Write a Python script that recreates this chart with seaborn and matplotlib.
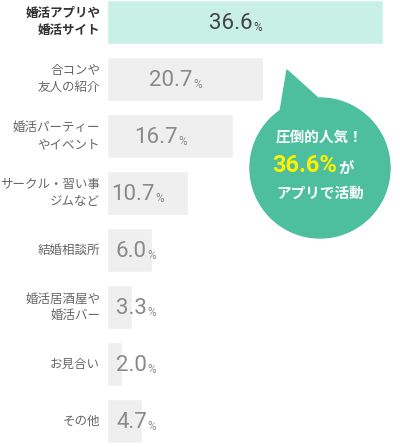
import matplotlib
matplotlib.use("Agg")
import matplotlib.pyplot as plt
import seaborn as sns
import pandas as pd
from matplotlib.patches import Circle, Polygon

categories = ["婚活アプリや\n婚活サイト", "合コンや\n友人の紹介", "婚活パーティー\nやイベント", "サークル・習い事\nジムなど",
              "結婚相談所", "婚活居酒屋や\n婚活バー", "お見合い", "その他"]
values = [36.6, 20.7, 16.7, 10.7, 6.0, 3.3, 2.0, 4.7]

sns.set_theme(style="white")
plt.rcParams['font.family'] = ['Noto Sans CJK JP', 'DejaVu Sans']

df = pd.DataFrame({"cat": categories, "val": values})
fig = plt.figure(figsize=(4, 4.47), dpi=100)
ax = fig.add_axes([107/400, 0, 293/400, 1])
colors = ["#c9f0e5"] + ["#efefef"] * 7
sns.barplot(data=df, y="cat", x="val", hue="cat", palette=colors, legend=False,
            orient="h", width=0.77, ax=ax, saturation=1)
ax.set_xlim(0, 36.6 * 293 / 276)
ax.set_ylim(447/57 - 22/57, -22/57)
ax.axis("off")

for i, (c, v) in enumerate(zip(categories, values)):
    first = i == 0
    ax.text(-0.9, i, c, ha="right", va="center", fontsize=9,
            color="#333333" if first else "#666666", fontweight="bold" if first else "normal",
            linespacing=1.35)
    x = max(v / 2, 4.3) + 1.0
    col = "#444444" if first else "#8a8a8a"
    ax.text(x, i + 0.03, f"{v:.1f}", ha="right", va="center", fontsize=16, color=col,
            family=["Roboto", "DejaVu Sans"])
    ax.text(x + 0.05, i + 0.1, "%", ha="left", va="center", fontsize=8.5, color=col,
            family=["Roboto", "DejaVu Sans"])

ov = fig.add_axes([0, 0, 1, 1])
ov.set_xlim(0, 400); ov.set_ylim(447, 0); ov.axis("off")
teal = "#4dbf9e"
ov.add_patch(Polygon([(280, 112), (318, 98), (287, 70)], color=teal))
ov.add_patch(Circle((320, 168), 70, color=teal))
ov.text(320, 137, "圧倒的人気！", ha="center", va="center", fontsize=10.5, color="white", fontweight="bold")
ov.text(337, 166, "36.6%", ha="right", va="center", fontsize=17, color="#fff200", fontweight="bold",
        family=["Roboto", "DejaVu Sans"])
ov.text(338, 168, "が", ha="left", va="center", fontsize=11, color="white", fontweight="bold")
ov.text(320, 193, "アプリで活動", ha="center", va="center", fontsize=10.5, color="white", fontweight="bold")

fig.savefig("out.png", dpi=100)
